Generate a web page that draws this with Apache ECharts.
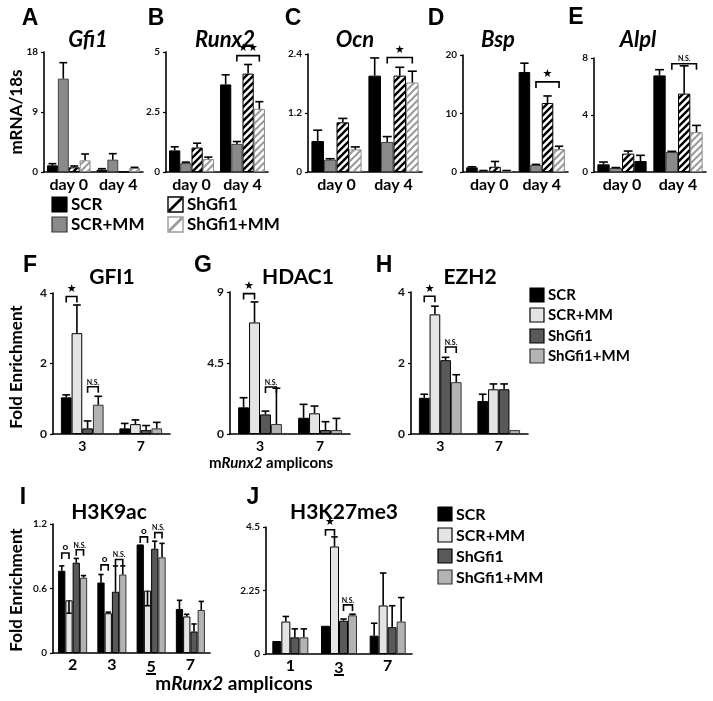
<!DOCTYPE html>
<html><head><meta charset="utf-8">
<script src="https://cdn.jsdelivr.net/npm/echarts@6/dist/echarts.min.js"></script>
<style>html,body{margin:0;padding:0;background:#fff}#c{width:713px;height:701px}</style>
</head><body><div id="c"></div>
<script>
// ---------- categories ----------
const groups = ['SCR', 'SCR+MM', 'ShGfi1', 'ShGfi1+MM'];
const dayCats = ['day 0', 'day 4'];
const chipCats = ['3', '7'];
const h3k9Cats = ['2', '3', '5', '7'];
const h3k27Cats = ['1', '3', '7'];

// ---------- values: rows = SCR, SCR+MM, ShGfi1, ShGfi1+MM ----------
const gfi1Mean = [[1.0, 0.35], [14.0, 1.85], [0.7, 0.05], [1.75, 0.6]];
const gfi1SD   = [[0.25, 0.15], [2.4, 0.9], [0.2, 0], [0.95, 0.1]];
const runx2Mean = [[0.9, 3.65], [0.37, 1.17], [1.02, 4.1], [0.54, 2.63]];
const runx2SD   = [[0.15, 0.4], [0.04, 0.1], [0.18, 0.38], [0.08, 0.3]];
const ocnMean = [[0.63, 1.96], [0.25, 0.61], [1.01, 1.96], [0.46, 1.82]];
const ocnSD   = [[0.22, 0.36], [0.02, 0.11], [0.08, 0.17], [0.05, 0.23]];
const bspMean = [[0.8, 17.1], [0.2, 1.2], [0.9, 11.8], [0.2, 3.9]];
const bspSD   = [[0.1, 1.5], [0.05, 0.1], [0.9, 1.2], [0.05, 0.5]];
const alplMean = [[0.54, 6.78], [0.28, 1.4], [1.29, 5.5], [0.77, 2.8]];
const alplSD   = [[0.16, 0.4], [0.03, 0.05], [0.18, 1.95], [0.4, 0.47]];

const gfi1ChipMean = [[1.04, 0.16], [2.86, 0.28], [0.16, 0.11], [0.83, 0.16]];
const gfi1ChipSD   = [[0.07, 0.14], [0.8, 0.12], [0.21, 0.13], [0.24, 0.17]];
const hdac1Mean = [[1.69, 1.03], [7.07, 1.31], [1.24, 0.25], [0.63, 0.25]];
const hdac1SD   = [[0.61, 0.85], [1.3, 0.46], [0.21, 0.53], [2.27, 0.74]];
const ezh2Mean = [[1.02, 0.93], [3.37, 1.26], [2.08, 1.26], [1.46, 0.11]];
const ezh2SD   = [[0.1, 0.19], [0.23, 0.15], [0.08, 0.15], [0.21, 0]];

const h3k9Mean = [[0.765, 0.656, 1.01, 0.41], [0.49, 0.37, 0.58, 0.34], [0.84, 0.57, 0.97, 0.2], [0.70, 0.73, 0.89, 0.40]];
const h3k9SD   = [[0.045, 0.074, 0, 0.08], [-0.12, 0.01, -0.14, 0.02], [0.04, 0.24, 0.07, 0.07], [0.02, 0.08, 0.13, 0.08]];
const h3k27Mean = [[0.46, 1.0, 0.65], [1.15, 3.81, 1.72], [0.59, 1.18, 0.95], [0.59, 1.37, 1.15]];
const h3k27SD   = [[0, 0, 0.44], [0.18, 0.34, 1.15], [0.3, 0.06, 0.76], [0.3, 0.04, 0.85]];

// significance brackets: [category, barFrom, barTo, height, label]
const runx2Sig = [[1, 1, 3, 4.85, '★★']];
const ocnSig = [[1, 1, 3, 2.33, '★']];
const bspSig = [[1, 1, 3, 15.4, '★']];
const alplSig = [[1, 1, 3, 7.6, 'N.S.']];
const gfi1ChipSig = [[0, 0, 1, 3.9, '★'], [0, 2, 3, 1.34, 'N.S.']];
const hdac1Sig = [[0, 0, 1, 8.9, '★'], [0, 2, 3, 2.98, 'N.S.']];
const ezh2Sig = [[0, 0, 1, 3.88, '★'], [0, 2, 3, 2.45, 'N.S.']];
const h3k9Sig = [[0, 0, 1, 0.93, 'o'], [0, 2, 3, 0.96, 'N.S.'], [1, 0, 1, 0.82, 'o'], [1, 2, 3, 0.87, 'N.S.'], [2, 0, 1, 1.08, 'o'], [2, 2, 3, 1.12, 'N.S.']];
const h3k27Sig = [[1, 0, 1, 4.4, '★'], [1, 2, 3, 1.74, 'N.S.']];

// ---------- styling helpers ----------
const FONT = 'Lato, "Liberation Sans", sans-serif';
function hatch(stroke, lw) {
  const s = 7, c = document.createElement('canvas');
  c.width = s; c.height = s;
  const x = c.getContext('2d');
  x.fillStyle = '#fff'; x.fillRect(0, 0, s, s);
  x.strokeStyle = stroke; x.lineWidth = lw; x.lineCap = 'square';
  x.beginPath();
  x.moveTo(-1, s + 1); x.lineTo(s + 1, -1);
  x.moveTo(-1, 1); x.lineTo(1, -1);
  x.moveTo(s - 1, s + 1); x.lineTo(s + 1, s - 1);
  x.stroke();
  return { image: c, repeat: 'repeat' };
}
const hatchBlack = hatch('#000', 2.4);
const hatchGrey = hatch('#9a9a9a', 2.0);
const ul = (function () {
  const c = document.createElement('canvas'); c.width = 10; c.height = 20;
  const x = c.getContext('2d'); x.fillStyle = '#000'; x.fillRect(0, 18, 10, 2);
  return c;
})();

const palTop = [
  { c: '#000', b: '#000' }, { c: '#8a8a8a', b: '#444' },
  { c: hatchBlack, b: '#000', line: '#000' }, { c: hatchGrey, b: '#8a8a8a', line: '#9a9a9a' }];
const palChip = [
  { c: '#000', b: '#000' }, { c: '#e4e4e4', b: '#000' },
  { c: '#595959', b: '#000' }, { c: '#b3b3b3', b: '#333' }];

const panels = [
  { cats: dayCats, mean: gfi1Mean, sd: gfi1SD, sig: [], max: 18, interval: 9, x0: 44, x1: 143, y0: 52, y1: 172, gap: 0.12, pal: palTop, tf: 10, cf: 16, cm: 5 },
  { cats: dayCats, mean: runx2Mean, sd: runx2SD, sig: runx2Sig, max: 5, interval: 2.5, x0: 166, x1: 268, y0: 52, y1: 172, gap: 0.12, pal: palTop, tf: 10, cf: 16, cm: 5 },
  { cats: dayCats, mean: ocnMean, sd: ocnSD, sig: ocnSig, max: 2.4, interval: 1.2, x0: 308, x1: 422, y0: 54, y1: 172, gap: 0.12, pal: palTop, tf: 10, cf: 16, cm: 5 },
  { cats: dayCats, mean: bspMean, sd: bspSD, sig: bspSig, max: 20, interval: 10, x0: 463, x1: 568, y0: 55, y1: 172, gap: 0.12, pal: palTop, tf: 10, cf: 16, cm: 5 },
  { cats: dayCats, mean: alplMean, sd: alplSD, sig: alplSig, max: 8, interval: 4, x0: 594, x1: 706, y0: 58, y1: 172, gap: 0.12, pal: palTop, tf: 10, cf: 16, cm: 5, black: [[3, 0]] },
  { cats: chipCats, mean: gfi1ChipMean, sd: gfi1ChipSD, sig: gfi1ChipSig, max: 4, interval: 2, x0: 53, x1: 170, y0: 293, y1: 434, gap: 0.27, pal: palChip, tf: 12, cf: 14, cm: 5 },
  { cats: chipCats, mean: hdac1Mean, sd: hdac1SD, sig: hdac1Sig, max: 9, interval: 4.5, x0: 230, x1: 350, y0: 292, y1: 434, gap: 0.27, pal: palChip, tf: 12, cf: 14, cm: 5 },
  { cats: chipCats, mean: ezh2Mean, sd: ezh2SD, sig: ezh2Sig, max: 4, interval: 2, x0: 411, x1: 528, y0: 292, y1: 434, gap: 0.27, pal: palChip, tf: 12, cf: 14, cm: 5 },
  { cats: h3k9Cats, mean: h3k9Mean, sd: h3k9SD, sig: h3k9Sig, max: 1.2, interval: 0.6, x0: 53, x1: 210, y0: 524, y1: 653, gap: 0.26, pal: palChip, tf: 10, cf: 16, cm: 4, under: '5' },
  { cats: h3k27Cats, mean: h3k27Mean, sd: h3k27SD, sig: h3k27Sig, max: 4.5, interval: 2.25, x0: 266, x1: 412, y0: 527, y1: 654, gap: 0.26, pal: palChip, tf: 10, cf: 16, cm: 4, under: '3' }
];

function errRender(gap, n) {
  return function (params, api) {
    const cat = api.value(0), bi = api.value(1), v = api.value(2), e = api.value(3);
    if (!e) return;
    const band = api.size([1, 0])[0];
    const w = band * (1 - gap) / n;
    const cx = api.coord([cat, 0])[0] + (bi - (n - 1) / 2) * w;
    const y1 = api.coord([cat, v])[1], y2 = api.coord([cat, v + e])[1];
    const cap = w * 0.36;
    return { type: 'group', children: [
      { type: 'line', shape: { x1: cx, y1: y1, x2: cx, y2: y2 }, style: { stroke: '#000', lineWidth: 1.6 } },
      { type: 'line', shape: { x1: cx - cap, y1: y2, x2: cx + cap, y2: y2 }, style: { stroke: '#000', lineWidth: 1.6 } }
    ] };
  };
}
function sigRender(list, gap, n) {
  return function (params, api) {
    const br = list[params.dataIndex];
    const band = api.size([1, 0])[0];
    const w = band * (1 - gap) / n;
    const c0 = api.coord([br[0], 0])[0];
    const xa = c0 + (br[1] - (n - 1) / 2) * w, xb = c0 + (br[2] - (n - 1) / 2) * w;
    const y = api.coord([br[0], br[3]])[1];
    const lab = br[4];
    const isStar = lab.indexOf('★') >= 0;
    const font = lab === 'N.S.' ? 'bold 7px ' + FONT : (lab === 'o' ? 'bold 10px ' + FONT : 'bold 11px "DejaVu Sans"');
    return { type: 'group', children: [
      { type: 'polyline', shape: { points: [[xa, y + 6], [xa, y], [xb, y], [xb, y + 6]] }, style: { stroke: '#000', lineWidth: 1.6, fill: null } },
      { type: 'text', z2: 5, style: { text: lab, x: (xa + xb) / 2, y: y - (isStar ? 2 : 1), align: 'center', textAlign: 'center', verticalAlign: 'bottom', textVerticalAlign: 'bottom', font: font, fill: '#000' } }
    ] };
  };
}

const grid = [], xAxis = [], yAxis = [], series = [];
panels.forEach(function (p, gi) {
  grid.push({ left: p.x0, top: p.y0, width: p.x1 - p.x0, height: p.y1 - p.y0 });
  const rich = { u: { fontSize: p.cf, fontWeight: 'bold', fontFamily: FONT, color: '#000', lineHeight: p.cf + 3, backgroundColor: { image: ul } } };
  xAxis.push({
    gridIndex: gi, type: 'category', data: p.cats,
    axisLine: { lineStyle: { color: '#000', width: 1.6 } }, axisTick: { show: false },
    axisLabel: { fontSize: p.cf, fontWeight: 'bold', fontFamily: FONT, color: '#000', margin: p.cm, interval: 0,
      formatter: function (v) { return p.under && v === p.under ? '{u|' + v + '}' : v; }, rich: rich }
  });
  yAxis.push({
    gridIndex: gi, type: 'value', min: 0, max: p.max, interval: p.interval,
    axisLine: { show: true, lineStyle: { color: '#000', width: 1.6 } },
    axisTick: { show: true, length: 3, lineStyle: { color: '#000', width: 1.2 } },
    splitLine: { show: false },
    axisLabel: { fontSize: p.tf, fontWeight: 'bold', fontFamily: FONT, color: '#111', margin: 6 }
  });
  const errData = [];
  groups.forEach(function (g, si) {
    const st = p.pal[si];
    series.push({
      type: 'bar', name: g, xAxisIndex: gi, yAxisIndex: gi,
      barGap: '0%', barCategoryGap: (p.gap * 100) + '%',
      itemStyle: { color: st.c, borderColor: st.b, borderWidth: 1 },
      emphasis: { disabled: true }, silent: true, animation: false,
      data: p.mean[si].map(function (v, ci) {
        if (p.black && p.black.some(function (b) { return b[0] === si && b[1] === ci; }))
          return { value: v, itemStyle: { color: '#000', borderColor: '#000' } };
        return v;
      })
    });
    p.mean[si].forEach(function (v, ci) { errData.push([ci, si, v, p.sd[si][ci]]); });
  });
  series.push({ type: 'custom', xAxisIndex: gi, yAxisIndex: gi, z: 10, silent: true, animation: false,
    renderItem: errRender(p.gap, groups.length), encode: { x: 0, y: 2 }, data: errData });
  if (p.sig.length) series.push({ type: 'custom', xAxisIndex: gi, yAxisIndex: gi, z: 11, silent: true, animation: false,
    renderItem: sigRender(p.sig, p.gap, groups.length), encode: { x: 0, y: 3 },
    data: p.sig.map(function (s) { return [s[0], s[1], s[2], s[3]]; }) });
});

// ---------- text & legends ----------
const gfx = [];
function txt(x, y, text, font, opts) {
  opts = opts || {};
  gfx.push({ type: 'text', x: x, y: y, rotation: opts.rot || 0, silent: true,
    style: { text: text, font: font, fill: '#000', align: opts.align || 'center', textAlign: opts.align || 'center',
      verticalAlign: 'middle', textVerticalAlign: 'middle', rich: opts.rich } });
}
const LET = 'bold 23px "Liberation Sans", Arial, sans-serif';
[['A', 30, 19], ['B', 156, 19], ['C', 293, 19], ['D', 436, 19], ['E', 576, 18],
 ['F', 30, 266], ['G', 203, 266], ['H', 384, 266], ['I', 23, 498], ['J', 253, 498]]
  .forEach(function (l) { txt(l[1], l[2], l[0], LET); });
const TI = 'italic bold 22px ' + FONT;
[['Gfi1', 88, 40], ['Runx2', 225, 40], ['Ocn', 355, 40], ['Bsp', 498, 40], ['Alpl', 638, 40]]
  .forEach(function (t) { txt(t[1], t[2], t[0], TI); });
const TB = 'bold 21px ' + FONT;
[['GFI1', 112, 277], ['HDAC1', 298, 277], ['EZH2', 470, 277], ['H3K9ac', 109, 512], ['H3K27me3', 344, 512]]
  .forEach(function (t) { txt(t[1], t[2], t[0], TB); });
txt(17, 112, 'mRNA/18s', 'bold 17px ' + FONT, { rot: Math.PI / 2 });
txt(17, 367, 'Fold Enrichment', 'bold 17px ' + FONT, { rot: Math.PI / 2 });
txt(17, 590, 'Fold Enrichment', 'bold 17px ' + FONT, { rot: Math.PI / 2 });
function ampl(x, y, size) {
  txt(x, y, '{a|m}{b|Runx2}{a| amplicons}', 'bold ' + size + 'px ' + FONT, { rich: {
    a: { font: 'bold ' + size + 'px ' + FONT, fill: '#000', color: '#000' },
    b: { font: 'italic bold ' + size + 'px ' + FONT, fill: '#000', color: '#000' } } });
}
ampl(271, 463, 15);
ampl(234, 684, 19);

function legendItem(x, y, size, st, label, fs) {
  if (st.line) {
    gfx.push({ type: 'rect', x: x, y: y, silent: true, shape: { width: size, height: size },
      style: { fill: '#fff', stroke: st.line, lineWidth: 1.4 } });
    gfx.push({ type: 'line', x: x, y: y, silent: true, shape: { x1: 1, y1: size - 1, x2: size - 1, y2: 1 },
      style: { stroke: st.line, lineWidth: 2.6 } });
  } else {
    gfx.push({ type: 'rect', x: x, y: y, silent: true, shape: { width: size, height: size },
      style: { fill: st.c, stroke: st.b === '#000' ? '#000' : '#333', lineWidth: 1.2 } });
  }
  txt(x + size + 4, y + size / 2 + 0.5, label, 'bold ' + fs + 'px ' + FONT, { align: 'left' });
}
legendItem(52, 197, 15, palTop[0], 'SCR', 17);
legendItem(52, 217, 15, palTop[1], 'SCR+MM', 17);
legendItem(168, 197, 15, palTop[2], 'ShGfi1', 17);
legendItem(168, 217, 15, palTop[3], 'ShGfi1+MM', 17);
[288, 308, 329, 349].forEach(function (y, i) { legendItem(530, y, 14, palChip[i], groups[i], 15); });
[507, 528, 549, 570].forEach(function (y, i) { legendItem(438, y, 14, palChip[i], groups[i], 16); });

const chart = echarts.init(document.getElementById('c'), null, { renderer: 'canvas' });
chart.setOption({
  backgroundColor: '#fff', animation: false,
  textStyle: { fontFamily: FONT },
  grid: grid, xAxis: xAxis, yAxis: yAxis, series: series, graphic: gfx
});
</script></body></html>
